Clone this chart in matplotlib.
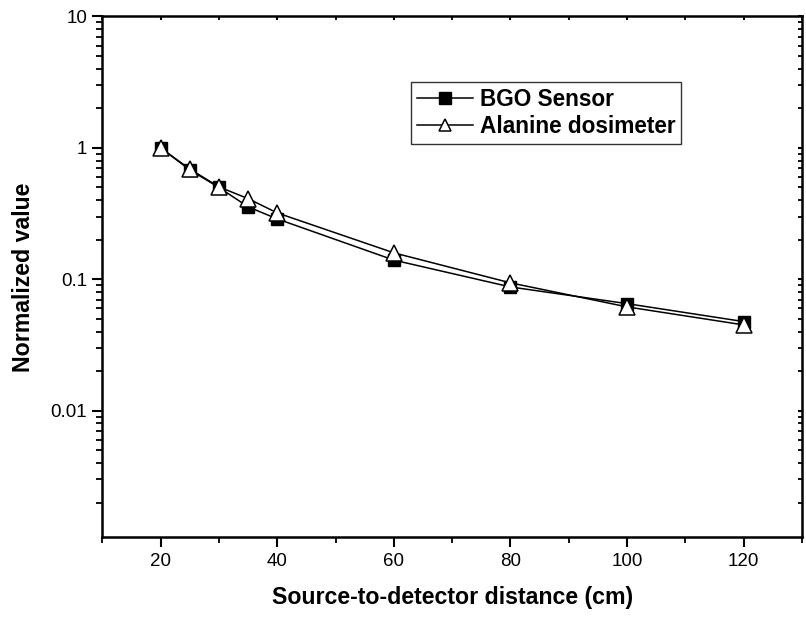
import numpy as np
import matplotlib
matplotlib.use('Agg')
import matplotlib.pyplot as plt
from matplotlib.ticker import FixedLocator, LogLocator, NullFormatter, FixedFormatter

plt.rcParams['font.family'] = ['Liberation Sans', 'DejaVu Sans']

# distances (cm) and normalized readings
distance = [20, 25, 30, 35, 40, 60, 80, 100, 120]
bgo_sensor = [1.0, 0.68, 0.50, 0.356, 0.288, 0.140, 0.0875, 0.0653, 0.0477]
alanine = [1.0, 0.69, 0.505, 0.411, 0.32, 0.159, 0.094, 0.0617, 0.045]

x_ticks = [20, 40, 60, 80, 100, 120]
y_ticks = [0.01, 0.1, 1, 10]
y_labels = ['0.01', '0.1', '1', '10']

fig = plt.figure(figsize=(8.06, 6.23), dpi=100)
ax = fig.add_axes([0.127, 0.1376, 0.868, 0.836])

ax.plot(distance, bgo_sensor, color='black', lw=1.1, marker='s', ms=9,
        mfc='black', mec='black', label='BGO Sensor', zorder=3)
ax.plot(distance, alanine, color='black', lw=1.1, marker='^', ms=12,
        mfc='white', mec='black', mew=1.1, label='Alanine dosimeter', zorder=4)

ax.set_yscale('log')
ax.set_xlim(10, 130)
ax.set_ylim(0.00109, 10)

ax.xaxis.set_major_locator(FixedLocator(x_ticks))
ax.xaxis.set_minor_locator(FixedLocator([10, 30, 50, 70, 90, 110, 130]))
ax.yaxis.set_major_locator(FixedLocator(y_ticks))
ax.yaxis.set_major_formatter(FixedFormatter(y_labels))
ax.yaxis.set_minor_locator(LogLocator(base=10, subs=np.arange(2, 10)))
ax.yaxis.set_minor_formatter(NullFormatter())

for s in ax.spines.values():
    s.set_linewidth(1.8)

ax.tick_params(axis='both', which='major', direction='out', length=7, width=1.5,
               labelsize=13.5, pad=4)
ax.tick_params(axis='both', which='minor', direction='out', length=4, width=1.3)
ax.tick_params(which='both', top=True, right=True)
# top/right ticks drawn inward & short
for t in ax.xaxis.get_major_ticks() + ax.xaxis.get_minor_ticks():
    t.tick2line.set_marker(matplotlib.lines.TICKDOWN)
    t.tick2line.set_markersize(3)
for t in ax.yaxis.get_major_ticks() + ax.yaxis.get_minor_ticks():
    t.tick2line.set_marker(matplotlib.lines.TICKLEFT)
    t.tick2line.set_markersize(3)

ax.set_xlabel('Source-to-detector distance (cm)', fontsize=16.7, fontweight='bold', labelpad=12)
ax.set_ylabel('Normalized value', fontsize=16.7, fontweight='bold', labelpad=11)

leg = ax.legend(loc='upper left', bbox_to_anchor=(0.441, 0.874),
                prop={'weight': 'bold', 'size': 16.3}, frameon=True, fancybox=False,
                edgecolor='black', borderpad=0.25, labelspacing=0.2,
                handlelength=2.5, handletextpad=0.3, borderaxespad=0)
leg.get_frame().set_linewidth(1.0)
for h in leg.legend_handles:
    h.set_markersize(8)

fig.savefig('out.png', dpi=100)
